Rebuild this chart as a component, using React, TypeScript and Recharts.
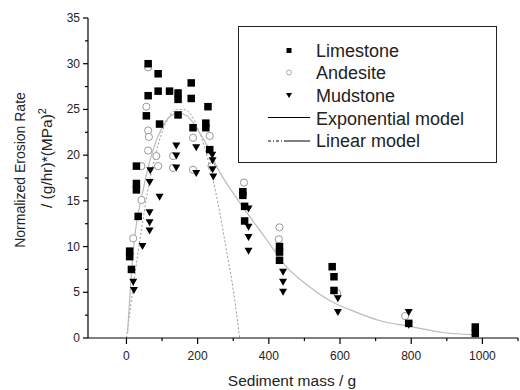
import { ComposedChart, Line, Scatter, XAxis, YAxis } from "recharts";

// [sediment mass g, normalized erosion rate]
const limestone = [
  [9, 9.5], [9, 8.9], [14, 7.5], [28, 18.8], [28, 16.9], [28, 16.2], [33, 13.3],
  [56, 24.3], [61, 30.0], [61, 26.5], [89, 28.9], [89, 27.0], [93, 23.4],
  [121, 27.0], [145, 26.8], [145, 26.1], [145, 24.4], [182, 27.9], [182, 26.2],
  [187, 23.0], [223, 23.5], [223, 23.0], [229, 25.3], [234, 20.6],
  [327, 16.0], [327, 15.6], [332, 14.4], [332, 12.8], [430, 10.0], [430, 9.4],
  [430, 8.5], [578, 7.8], [583, 6.7], [583, 5.2], [793, 1.6], [980, 1.2], [980, 0.5],
];

const andesite = [
  [19, 10.9], [42, 15.1], [42, 18.8], [61, 29.6], [56, 25.3], [61, 22.7], [63, 22.0],
  [61, 20.5], [84, 19.9], [89, 18.8], [131, 19.9], [131, 18.6], [187, 21.9],
  [187, 18.4], [234, 22.1], [239, 18.8], [330, 17.0], [430, 12.1], [428, 10.8],
  [592, 4.9], [783, 2.4],
];

const mudstone = [
  [19, 6.1], [21, 5.2], [45, 10.0], [65, 13.7], [65, 12.6], [65, 11.7], [67, 18.3],
  [65, 17.0], [93, 15.4], [140, 21.0], [140, 19.9], [140, 18.6], [196, 20.8],
  [196, 18.0], [241, 20.0], [242, 19.4], [242, 18.4], [244, 17.6], [343, 14.1],
  [343, 12.1], [343, 11.0], [343, 9.5], [440, 7.2], [440, 6.1], [440, 5.0],
  [594, 4.3], [594, 2.8], [793, 2.8], [793, 1.4],
];

// model curves
const expModel = [
  [3, 0.5], [19, 9.5], [47, 16.2], [75, 20.6], [100, 23.0], [121, 24.2], [145, 24.6],
  [170, 24.3], [200, 22.8], [230, 20.8], [253, 18.8], [299, 15.9], [346, 13.3],
  [393, 10.8], [449, 7.8], [514, 5.6], [580, 3.9], [627, 3.1], [720, 1.8],
  [793, 1.3], [889, 0.6], [980, 0.35],
];

const linModel = [
  [0, 0], [10, 3.0], [25, 7.3], [40, 11.3], [60, 16.1], [80, 19.8], [100, 22.5],
  [120, 24.2], [140, 25.0], [160, 25.0], [180, 24.5], [200, 23.0], [220, 20.8],
  [240, 17.8], [260, 14.2], [280, 9.8], [300, 5.3], [318, 0],
];

const xTicks = [0, 100, 200, 300, 400, 500, 600, 700, 800, 900, 1000, 1100];
const yTicks = [0, 2.5, 5, 7.5, 10, 12.5, 15, 17.5, 20, 22.5, 25, 27.5, 30, 32.5, 35];

const FONT = "'Liberation Sans', Arial, sans-serif";
const toXY = (d: number[][]) => d.map(([x, y]) => ({ x, y }));

const SquareDot = (p: any) => (
  <rect x={p.cx - 3.75} y={p.cy - 3.75} width={7.5} height={7.5} fill="#000" />
);
const CircleDot = (p: any) => (
  <circle cx={p.cx} cy={p.cy} r={3.6} fill="#fff" stroke="#999" strokeWidth={1} />
);
const TriDot = (p: any) => (
  <polygon
    points={`${p.cx - 4},${p.cy - 3.5} ${p.cx + 4},${p.cy - 3.5} ${p.cx},${p.cy + 3.5}`}
    fill="#000"
  />
);

const XTick = ({ x, y, payload }: any) => {
  const major = payload.value % 200 === 0 && payload.value <= 1000;
  return (
    <g>
      <line x1={x} x2={x} y1={y} y2={y + (major ? 6 : 3)} stroke="#000" strokeWidth={1.2} />
      {major && (
        <text x={x} y={y + 22} textAnchor="middle" fontSize={12} fill="#222" fontFamily={FONT}>
          {payload.value}
        </text>
      )}
    </g>
  );
};

const YTick = ({ x, y, payload }: any) => {
  const major = payload.value % 5 === 0;
  return (
    <g>
      <line x1={x - (major ? 5 : 3)} x2={x} y1={y} y2={y} stroke="#000" strokeWidth={1.2} />
      {major && (
        <text x={x - 8} y={y + 4} textAnchor="end" fontSize={12} fill="#222" fontFamily={FONT}>
          {payload.value}
        </text>
      )}
    </g>
  );
};

const YLabel = () => (
  <g fontFamily={FONT} fill="#222">
    <text transform="translate(25,170) rotate(-90)" textAnchor="middle" fontSize={14}>
      Normalized Erosion Rate
    </text>
    <text transform="translate(52,158) rotate(-90)" textAnchor="middle" fontSize={15.5}>
      / (g/hr)*(MPa)
      <tspan fontSize={11} dy={-6}>2</tspan>
    </text>
  </g>
);

const XLabel = () => (
  <text x={292} y={386} textAnchor="middle" fontSize={15.5} fill="#222" fontFamily={FONT}>
    Sediment mass / g
  </text>
);

function ChartLegend() {
  const rows = ["Limestone", "Andesite", "Mudstone", "Exponential model", "Linear model"];
  return (
    <div
      style={{
        position: "absolute",
        left: 238,
        top: 26,
        width: 259,
        height: 137,
        border: "1.5px solid #222",
        boxSizing: "border-box",
        background: "#fff",
      }}
    >
      <svg width={256} height={134} style={{ position: "absolute", left: -1.5, top: -1.5 }}>
        <rect x={48.5} y={22} width={5} height={5} fill="#000" />
        <circle cx={51} cy={46.5} r={2.5} fill="#fff" stroke="#aaa" />
        <polygon points="48,67 54,67 51,72" fill="#000" />
        <line x1={30} x2={72} y1={91.5} y2={91.5} stroke="#000" strokeWidth={1} />
        <line x1={30} x2={47} y1={115} y2={115} stroke="#000" strokeWidth={1} strokeDasharray="3 2 1 2" />
        <line x1={47} x2={72} y1={115} y2={115} stroke="#000" strokeWidth={1} />
        {rows.map((r, i) => (
          <text key={r} x={78} y={30.7 + i * 22.6} fontSize={18} fill="#222" fontFamily={FONT}>
            {r}
          </text>
        ))}
      </svg>
    </div>
  );
}

export default function App() {
  return (
    <div style={{ position: "absolute", left: 0, top: 0, width: 520, height: 390, background: "#fff" }}>
      <ComposedChart width={520} height={390} margin={{ top: 18, right: 2, bottom: 0, left: 0 }}>
        <XAxis
          type="number"
          dataKey="x"
          domain={[-108, 1100]}
          ticks={xTicks}
          interval={0}
          tick={<XTick />}
          tickLine={false}
          tickSize={0}
          tickMargin={0}
          height={52}
          axisLine={{ stroke: "#000", strokeWidth: 1.2 }}
          allowDataOverflow
          label={<XLabel />}
        />
        <YAxis
          type="number"
          dataKey="y"
          domain={[0, 35]}
          ticks={yTicks}
          interval={0}
          tick={<YTick />}
          tickLine={false}
          tickSize={0}
          tickMargin={0}
          width={88}
          axisLine={{ stroke: "#000", strokeWidth: 1.2 }}
          allowDataOverflow
          label={<YLabel />}
        />
        <Line
          data={toXY(linModel)}
          dataKey="y"
          type="monotone"
          stroke="#999"
          strokeWidth={1}
          strokeDasharray="2 2"
          dot={false}
          activeDot={false}
          isAnimationActive={false}
        />
        <Line
          data={toXY(expModel)}
          dataKey="y"
          type="monotone"
          stroke="#bbb"
          strokeWidth={1.2}
          dot={false}
          activeDot={false}
          isAnimationActive={false}
        />
        <Scatter data={toXY(andesite)} dataKey="y" shape={<CircleDot />} isAnimationActive={false} />
        <Scatter data={toXY(mudstone)} dataKey="y" shape={<TriDot />} isAnimationActive={false} />
        <Scatter data={toXY(limestone)} dataKey="y" shape={<SquareDot />} isAnimationActive={false} />
      </ComposedChart>
      <ChartLegend />
    </div>
  );
}
